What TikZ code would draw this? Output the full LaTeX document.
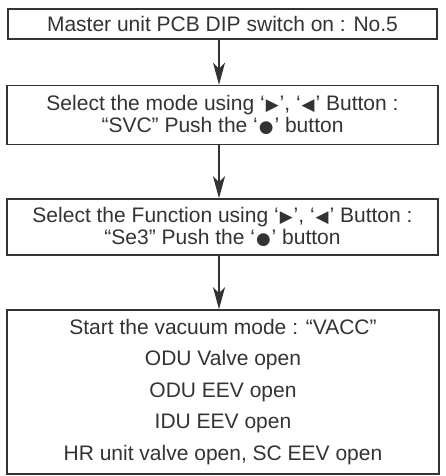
\documentclass[tikz,border=0pt]{standalone}
\usepackage{fontspec}
\setmainfont{Liberation Sans}
\newfontfamily\symfont[Scale=0.8]{DejaVu Sans}
\usetikzlibrary{arrows.meta}
\definecolor{ink}{HTML}{333333}
\newcommand{\sym}[1]{\hspace{1pt}{\symfont #1}\hspace{1pt}}
\begin{document}
\begin{tikzpicture}[x=1pt,y=-1pt,
  box/.style={draw=ink,line width=1.5pt,text=ink,align=center,inner sep=0pt,
    font=\fontsize{21}{22}\selectfont},
  arr/.style={draw=ink,line width=1.4pt,-{Stealth[length=22pt,width=12pt,inset=6pt]}}]
\useasboundingbox (0,0) rectangle (445,476);
\node[box,minimum width=429pt,minimum height=30pt] (b1) at (222.5,24) {Master unit PCB DIP switch on : No.5};
\node[box,minimum width=431pt,minimum height=59pt] (b2) at (222.5,115)
  {Select the mode using ‘\sym{▶}’, ‘\sym{◀}’ Button :\\“SVC” Push the ‘\sym{●}’ button};
\node[box,minimum width=431pt,minimum height=56pt] (b3) at (222.5,227)
  {Select the Function using ‘\sym{▶}’, ‘\sym{◀}’ Button :\\“Se3” Push the ‘\sym{●}’ button};
\node[box,minimum width=432pt,minimum height=164pt,font=\fontsize{21}{31.5}\selectfont] (b4) at (223,392)
  {Start the vacuum mode : “VACC”\\ODU Valve open\\ODU EEV open\\IDU EEV open\\HR unit valve open, SC EEV open};
\draw[arr] ([xshift=-3.5pt]b1.south) -- ([xshift=-3.5pt]b2.north);
\draw[arr] ([xshift=-3.5pt]b2.south) -- ([xshift=-3.5pt]b3.north);
\draw[arr] ([xshift=-3.5pt]b3.south) -- ([xshift=-4pt]b4.north);
\end{tikzpicture}
\end{document}
